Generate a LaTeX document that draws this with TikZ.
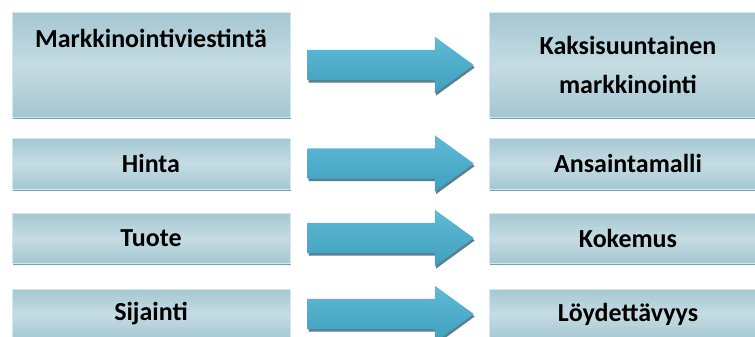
\documentclass[tikz,border=0pt]{standalone}
\usepackage{fontspec}
\setmainfont{Carlito}
\usetikzlibrary{shapes.arrows,shadows,calc}

\definecolor{boxedge}{RGB}{164,199,210}
\definecolor{boxmid}{RGB}{198,220,227}
\definecolor{boxline}{RGB}{212,231,237}
\definecolor{arrowtop}{RGB}{96,186,212}
\definecolor{arrowbot}{RGB}{62,160,192}
\definecolor{shadowcol}{RGB}{70,115,132}

\tikzset{
  box/.style={rectangle, minimum width=278pt, inner sep=0pt, draw=boxline, line width=1pt,
    top color=boxedge, bottom color=boxedge, middle color=boxmid,
    font=\fontsize{26}{39}\selectfont\bfseries, align=center,
    drop shadow={shadow xshift=0.5pt, shadow yshift=-2pt, fill=shadowcol, opacity=0.7}},
  toptext/.style={text height=18pt, text depth=52pt},
  blockarrow/.style={single arrow, anchor=tail, minimum height=166pt, inner xsep=0pt, inner ysep=15pt,
    single arrow head extend=13pt, single arrow tip angle=72,
    top color=arrowtop, bottom color=arrowbot, draw=none,
    drop shadow={shadow xshift=1pt, shadow yshift=-2.5pt, fill=shadowcol, opacity=0.9}},
}

\begin{document}
\begin{tikzpicture}[x=1pt, y=-1pt]
\useasboundingbox[fill=white] (0,0) rectangle (755,337);

% vanha malli
\node[box, toptext, minimum height=104pt] (l1) at (151,65) {Markkinointiviestintä};
\node[box, minimum height=51pt] (l2) at (151,163.5) {Hinta};
\node[box, minimum height=50pt] (l3) at (151,238) {Tuote};
\node[box, minimum height=50pt] (l4) at (151,314) {Sijainti};

% uusi malli
\node[box, minimum height=104pt] (r1) at (628,65) {Kaksisuuntainen\\markkinointi};
\node[box, minimum height=51pt] (r2) at (628,163.5) {Ansaintamalli};
\node[box, minimum height=50pt] (r3) at (628,238) {Kokemus};
\node[box, minimum height=50pt] (r4) at (628,314) {Löydettävyys};

\foreach \i in {1,...,4} {
  \node[blockarrow] (a\i) at ($(l\i.east)+(17,0)$) {};
}
\end{tikzpicture}
\end{document}
